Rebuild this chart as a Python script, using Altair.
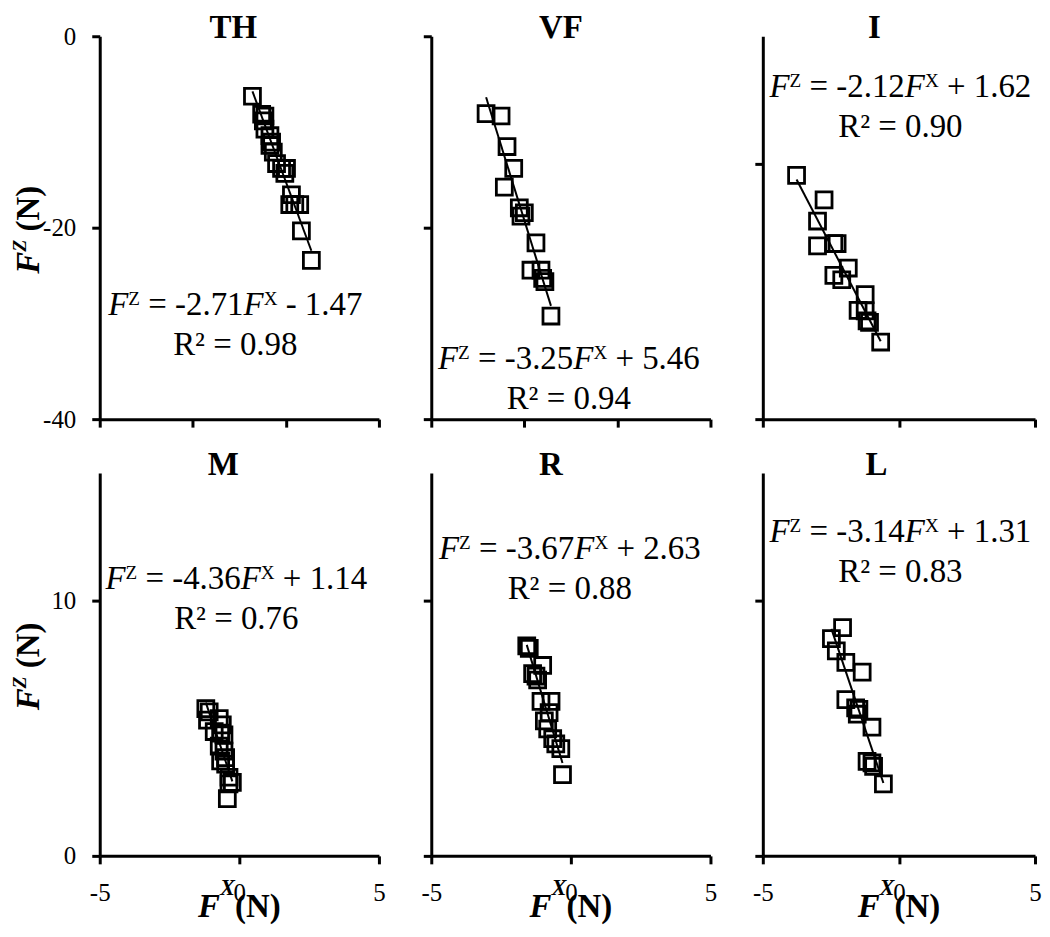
import altair as alt
import pandas as pd

# ---------------- data ----------------
panels = ["TH", "VF", "I", "M", "R", "L"]

th_fx = [1.41, 2.40, 2.75, 2.58, 2.75, 3.29, 3.47, 3.29, 3.65, 4.00, 4.54, 5.07, 4.89, 5.60, 5.42, 5.96, 6.49, 6.67, 7.74]
th_fz = [-6.27, -8.15, -8.33, -8.84, -9.70, -10.39, -11.07, -11.41, -12.10, -13.30, -13.81, -13.81, -14.32, -16.56, -17.58, -17.58, -17.58, -20.33, -23.41]
vf_fx = [-9.11, -7.50, -6.86, -6.14, -7.15, -5.54, -5.00, -5.36, -3.75, -4.29, -3.21, -3.03, -2.79, -2.14]
vf_fz = [31.91, 31.67, 28.48, 26.20, 24.24, 22.08, 21.56, 21.21, 18.41, 15.56, 15.56, 14.70, 14.37, 10.77]
i_fx = [-3.76, -2.75, -2.99, -2.99, -2.39, -2.27, -1.86, -2.39, -2.10, -1.24, -1.50, -1.24, -1.17, -1.08, -0.67]
i_fz = [9.55, 8.59, 7.76, 6.79, 6.88, 6.88, 5.92, 5.63, 5.46, 4.88, 4.26, 4.24, 3.85, 3.79, 3.02]
m_fx = [-1.20, -1.08, -1.14, -0.72, -0.61, -0.90, -0.67, -0.55, -0.72, -0.55, -0.49, -0.67, -0.49, -0.37, -0.25, -0.37, -0.43]
m_fz = [5.77, 5.64, 5.32, 5.38, 5.13, 4.87, 4.81, 4.74, 4.30, 4.10, 3.85, 3.72, 3.59, 3.08, 2.88, 2.82, 2.24]
r_fx = [-1.58, -1.49, -1.01, -1.37, -1.25, -1.19, -1.07, -0.71, -0.78, -0.95, -0.83, -0.65, -0.54, -0.36, -0.30]
r_fz = [8.23, 8.13, 7.46, 7.14, 7.04, 6.89, 6.05, 6.05, 5.61, 5.29, 4.97, 4.59, 4.39, 4.20, 3.18]
l_fx = [-2.07, -2.48, -2.30, -1.95, -1.35, -1.95, -1.59, -1.47, -1.53, -0.99, -1.17, -0.99, -0.93, -0.57]
l_fz = [8.94, 8.51, 8.03, 7.58, 7.20, 6.12, 5.80, 5.74, 5.55, 5.04, 3.70, 3.64, 3.51, 2.82]

slopes = [-2.71, -3.25, -2.12, -4.36, -3.67, -3.14]
intercepts = [-1.47, 5.46, 1.62, 1.14, 2.63, 1.31]
r_squared = [0.98, 0.94, 0.90, 0.76, 0.88, 0.83]

x_domains = [[-15, 15], [-15, 15], [-5, 5], [-5, 5], [-5, 5], [-5, 5]]
x_ticks = [[-15, -5, 5, 15], [-15, -5, 5, 15], [-5, 0, 5], [-5, 0, 5], [-5, 0, 5], [-5, 0, 5]]
y_domains = [[-40, 0], [0, 40], [0, 15], [0, 15], [0, 15], [0, 15]]
y_ticks = [[-40, -20, 0], [0, 20, 40], [0, 10], [0, 10], [0, 10], [0, 10]]

fx_all = [th_fx, vf_fx, i_fx, m_fx, r_fx, l_fx]
fz_all = [th_fz, vf_fz, i_fz, m_fz, r_fz, l_fz]

# ---------------- style ----------------
SERIF = "Liberation Serif"
H = 384
widths_px = [280, 280, 273, 280, 280, 273]
title_x = [134, 130, 112, 124, 120, 114]
eq_x = [136, 138, 138, 137, 139, 138]
eq_y = [280, 334, 61, 116, 86, 69]
EQ_FS = 33
LINE_GAP = 40

# Times / Liberation Serif advance widths (1/1000 em)
_reg = {" ": 250, "-": 333, ".": 250, "=": 564, "+": 564, "(": 333, ")": 333,
        "N": 722, "R": 667, "F": 556, "X": 722, "Z": 611, "\u00b2": 300}
for d in "0123456789":
    _reg[d] = 500
WID = {
    "r": _reg,
    "i": {"F": 611, "X": 611, "Z": 556},
    "b": {" ": 250, "(": 333, ")": 333, "N": 722, "X": 722, "Z": 667, "F": 611},
    "bi": {"F": 667, "X": 667, "Z": 611},
}

ANNO = pd.DataFrame({"k": [0]})


def tw(text, style):
    tab = WID[style]
    return sum(tab.get(c, _reg.get(c, 500)) for c in text)


def rich(segs, x, y, fs, angle=0):
    """segs: list of (text, style, size_scale, raise_px); centred at (x, y) baseline."""
    sizes = [fs * sc for (_, _, sc, _) in segs]
    widths = [tw(t, st) * sz / 1000 for (t, st, _, _), sz in zip(segs, sizes)]
    cur = -sum(widths) / 2
    out = []
    for (t, st, sc, rs), sz, w in zip(segs, sizes, widths):
        lead = len(t) - len(t.lstrip(" "))
        shown = t.strip(" ")
        off = cur + tw(" " * lead, st) * sz / 1000
        out.append(
            alt.Chart(ANNO).mark_text(
                align="left", baseline="alphabetic", dx=round(off, 2), dy=-rs,
                angle=angle, font=SERIF, fontSize=round(sz, 2),
                fontStyle="italic" if "i" in st else "normal",
                fontWeight="bold" if "b" in st else "normal", color="black",
            ).encode(x=alt.value(x), y=alt.value(y), text=alt.value(shown))
        )
        cur += w
    return out


def fmt_int(v):
    return (" + " if v >= 0 else " - ") + f"{abs(v):.2f}"


def panel(i):
    W = widths_px[i]
    df = pd.DataFrame({"FX": fx_all[i], "FZ": fz_all[i]})
    xs = alt.Scale(domain=x_domains[i], nice=False, zero=False)
    ys = alt.Scale(domain=y_domains[i], nice=False, zero=False)
    xax = alt.Axis(values=x_ticks[i], labels=i >= 3, title=None, grid=False,
                   labelPadding=17, labelFlush=False, labelOverlap=False,
                   labelExpr="'' + datum.value")
    yax = alt.Axis(values=y_ticks[i], labels=i in (0, 3), title=None, grid=False,
                   labelPadding=16, labelFlush=False, labelOverlap=False,
                   labelExpr="'' + datum.value")
    base = alt.Chart(df)
    pts = base.mark_point(shape="square", filled=False, size=255, strokeWidth=2.8,
                          color="black", opacity=1).encode(
        x=alt.X("FX:Q", scale=xs, axis=xax), y=alt.Y("FZ:Q", scale=ys, axis=yax))
    line = base.transform_regression("FX", "FZ").mark_line(
        color="black", strokeWidth=2).encode(x="FX:Q", y="FZ:Q")
    layers = [pts, line]

    # panel title
    layers.append(alt.Chart(ANNO).mark_text(
        align="center", baseline="alphabetic", font=SERIF, fontSize=33,
        fontWeight="bold", color="black").encode(
        x=alt.value(title_x[i]), y=alt.value(2), text=alt.value(panels[i])))

    # equation + R^2
    eq = [("F", "i", 1, 0), ("Z", "r", 0.58, 10),
          (f" = {slopes[i]:.2f}", "r", 1, 0), ("F", "i", 1, 0), ("X", "r", 0.58, 10),
          (fmt_int(intercepts[i]), "r", 1, 0)]
    layers += rich(eq, eq_x[i], eq_y[i], EQ_FS)
    layers += rich([(f"R\u00b2 = {r_squared[i]:.2f}", "r", 1, 0)], eq_x[i],
                   eq_y[i] + LINE_GAP, EQ_FS)

    # axis titles
    if i in (0, 3):
        yt = [("F", "bi", 1, 0), ("Z", "bi", 0.6, 13), (" (N)", "b", 1, 0)]
        layers += rich(yt, -61, 194, 33, angle=270)
    if i >= 3:
        xt = [("F", "bi", 1, 0), ("X", "bi", 0.68, 22), ("(N)", "b", 1, 0)]
        layers += rich(xt, W / 2, H + 61, 33)

    return alt.layer(*layers).properties(width=W, height=H)


chart = alt.concat(
    *[panel(i) for i in range(6)], columns=3,
    spacing={"row": 54, "column": 52.5}, bounds="flush",
).properties(padding={"left": 2, "top": 3, "right": 0, "bottom": 0}).configure(
    background="white",
).configure_view(stroke=None).configure_axis(
    domainColor="black", domainWidth=3, tickColor="black", tickWidth=3, tickSize=8,
    labelColor="black", labelFont=SERIF, labelFontSize=25,
)

chart.save("out.html", embed_options={"renderer": "svg", "actions": False})
